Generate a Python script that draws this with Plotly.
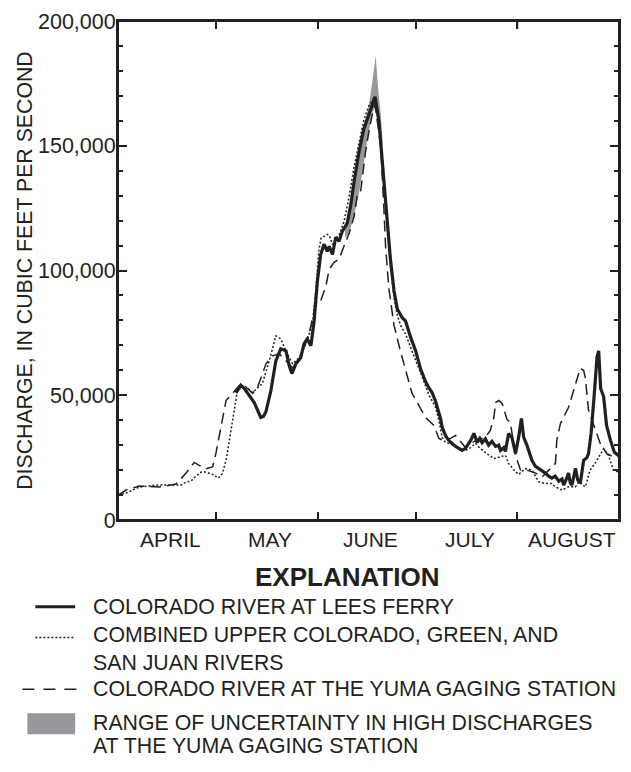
import plotly.graph_objects as go

# ---------------- data (days since April 1, discharge in ft3/s) ----------------
LEES_DAY = [36.0, 37.5, 38.6, 40.1, 41.6, 43.6, 44.4, 45.2, 46.7, 48.2, 49.7, 51.3, 52.3, 53.1, 54.3,
            55.8, 56.8, 57.8, 58.9, 59.9, 60.9, 61.9, 62.9, 63.9, 64.5, 65.5, 66.5, 67.5, 68.5, 70.0,
            71.1, 72.1, 73.6, 75.1, 76.6, 78.5, 79.7, 80.9, 82.1, 83.2, 84.3, 85.3, 86.8, 87.8, 89.4,
            90.9, 92.4, 93.9, 94.9, 95.9, 97.0, 98.5, 99.0, 100.0, 101.0, 102.0, 103.1, 104.1, 105.1,
            106.1, 107.7, 108.7, 109.7, 110.5, 111.2, 112.2, 113.2, 114.2, 115.3, 116.3, 116.8, 117.8,
            118.3, 119.3, 120.3, 121.4, 122.4, 123.2, 123.9, 124.9, 126.4, 127.5, 128.5, 129.5, 130.5,
            131.5, 132.5, 133.5, 134.6, 135.6, 136.1, 137.1, 137.6, 138.1, 138.6, 139.2, 139.7, 140.4,
            141.2, 142.2, 143.2, 143.7, 144.5, 145.3, 146.3, 146.8, 147.4, 148.3, 149.2, 150.4, 151.6,
            152.8]
LEES_CFS = [51000, 54000, 52700, 50000, 47100, 41100, 41500, 43500, 51900, 63800, 68600, 67800, 61800,
            58700, 62600, 65000, 70600, 72600, 69800, 79800, 95800, 106400, 110500, 107700, 109700,
            106400, 113300, 111700, 115700, 119000, 126500, 135700, 147600, 156800, 162800, 169600,
            159600, 139600, 119700, 104500, 91800, 84600, 81100, 79800, 73100, 67800, 60600, 55500,
            53100, 51100, 47500, 40700, 37200, 33900, 31900, 30700, 29500, 28700, 27900, 28700, 31900,
            34700, 31100, 32700, 31000, 32500, 30000, 31500, 29500, 30000, 27900, 29000, 27500, 34700,
            33100, 26700, 33500, 40700, 33100, 29900, 23900, 21500, 20700, 19600, 18800, 17600, 16800,
            17600, 15600, 16400, 14000, 17000, 18800, 15000, 14000, 17500, 20700, 16000, 14800, 23900,
            25000, 26700, 35000, 47900, 65400, 67800, 52700, 49500, 37900, 31900, 27100, 25900]

COMB_DAY = [0.0, 2.5, 6.5, 12.0, 16.6, 19.3, 20.8, 22.3, 23.8, 25.4, 26.9, 29.4, 30.6, 31.8, 33.0, 34.0,
            35.0, 35.5, 36.5, 38.6, 41.1, 44.1, 46.2, 48.2, 49.7, 51.3, 53.3, 55.3, 57.4, 59.4, 60.4,
            61.3, 62.0, 62.9, 63.9, 64.5, 65.5, 66.5, 67.5, 69.0, 70.6, 72.1, 73.6, 75.1, 76.6, 78.2,
            79.7, 80.9, 82.1, 83.2, 84.3, 85.3, 86.3, 87.8, 89.4, 91.0, 93.0, 95.0, 97.0, 98.0, 99.0,
            100.0, 101.0, 103.1, 106.1, 107.7, 109.2, 110.2, 112.2, 114.8, 116.8, 118.3, 119.3, 121.4,
            122.4, 124.4, 126.4, 127.5, 128.5, 130.5, 132.5, 133.6, 135.6, 137.6, 139.7, 140.7, 142.7,
            144.2, 146.3, 148.3, 149.8, 151.3, 152.8]
COMB_CFS = [10000, 10800, 13200, 14000, 14000, 14000, 15200, 15600, 17600, 19200, 19200, 18000, 16800,
            18400, 23900, 31900, 39900, 45100, 51900, 53900, 51100, 54700, 63800, 73800, 72600, 67800,
            62600, 65000, 70600, 78600, 91800, 107700, 112900, 113700, 114500, 114100, 110500, 112900,
            114000, 119500, 129700, 141600, 151600, 160400, 166000, 169200, 159000, 139000, 119000,
            102000, 89000, 82000, 78000, 74600, 69000, 64000, 57000, 50000, 45100, 39900, 33100, 31100,
            30700, 29500, 27900, 29000, 30700, 29200, 27000, 24600, 25300, 25900, 22600, 19300, 18300,
            20600, 20000, 17300, 15300, 14600, 14600, 13300, 12000, 13300, 13300, 15300, 13300, 20000,
            23900, 28600, 25900, 20000, 19300]

YUMA_DAY = [0.0, 2.5, 6.5, 12.6, 17.7, 20.8, 23.3, 24.8, 26.9, 28.9, 29.9, 31.5, 33.0, 35.0, 37.0, 39.6,
            41.1, 42.6, 45.2, 47.2, 49.2, 51.3, 53.3, 55.8, 58.4, 60.4, 61.9, 63.5, 64.5, 66.0, 67.5,
            69.0, 70.6, 72.1, 73.1, 74.1, 74.6, 75.6, 76.6, 77.7, 78.5, 80.2, 81.2, 81.7, 82.7, 84.3,
            86.3, 87.8, 88.8, 89.8, 91.4, 93.9, 96.5, 98.0, 100.0, 103.1, 106.1, 109.2, 112.2, 113.7,
            114.8, 115.3, 116.3, 117.3, 118.8, 119.8, 121.4, 122.9, 124.9, 127.5, 129.5, 132.5, 133.6,
            134.0, 135.1, 137.6, 140.2, 141.2, 142.2, 142.7, 143.7, 145.8, 147.3, 149.3, 151.3, 152.8]
YUMA_CFS = [10000, 12000, 13600, 13200, 14400, 18800, 23100, 21900, 20600, 21300, 26700, 37100, 47900,
            50700, 53900, 52700, 50700, 53100, 62600, 65800, 66600, 63800, 61000, 65000, 75000, 86600,
            87800, 93800, 100500, 103300, 104500, 109700, 114900, 121700, 130500, 131700, 137000,
            147600, 155600, 162800, 166400, 150000, 125000, 110000, 93000, 78000, 67400, 59900, 55900,
            50700, 47100, 41100, 37900, 32700, 31500, 33900, 29100, 31900, 33100, 35900, 41100, 47100,
            47900, 46700, 40300, 39100, 25900, 20000, 20000, 18800, 17200, 21300, 22700, 31900, 38600,
            45200, 55900, 60900, 59900, 57200, 43900, 35900, 30600, 26600, 25300, 25300]

BAND_DAY = [69.3, 70.6, 72.1, 73.6, 75.1, 76.6, 77.7, 78.7, 79.5, 80.2, 80.8]
BAND_LO = [113000, 115000, 122000, 131000, 143000, 156000, 163000, 166000, 160000, 150000, 150000]
BAND_HI = [116000, 123000, 136000, 148000, 158000, 166000, 176000, 186000, 172000, 163000, 152000]

MONTHS = ["APRIL", "MAY", "JUNE", "JULY", "AUGUST"]
MONTH_START = [0, 30, 61, 91, 122, 153]
Y_TICKS = [0, 50000, 100000, 150000, 200000]

LEGEND_TEXT = ["COLORADO RIVER AT LEES FERRY",
               "COMBINED UPPER COLORADO, GREEN, AND<br>SAN JUAN RIVERS",
               "COLORADO RIVER AT THE YUMA GAGING STATION",
               "RANGE OF UNCERTAINTY IN HIGH DISCHARGES",
               "AT THE YUMA GAGING STATION"]

# ---------------- styling ----------------
INK = "#231f20"
GRAY = "#97989b"
FONT = "Liberation Sans, Arial, Helvetica, sans-serif"
FS = 21
OFF = 8                      # default page body margin
W, H = 631 - 2 * OFF, 772 - 2 * OFF
ML, MT = 118 - OFF, 19 - OFF
PLOT_R, PLOT_B = 621 - OFF, 520 - OFF
MR, MB = W - PLOT_R, H - PLOT_B
PW, PH = W - ML - MR, H - MT - MB
XTICK_LEN = 8


def px(x):
    """page x (pixels) -> paper x"""
    return (x - OFF - ML) / PW


def py(y):
    """page y (pixels) -> paper y"""
    return (PLOT_B - (y - OFF)) / PH


fig = go.Figure()

# uncertainty band
fig.add_trace(go.Scatter(
    x=BAND_DAY + BAND_DAY[::-1], y=BAND_HI + BAND_LO[::-1],
    fill="toself", fillcolor=GRAY, line=dict(width=0), mode="lines",
    hoverinfo="skip", showlegend=False))

fig.add_trace(go.Scatter(x=COMB_DAY, y=COMB_CFS, mode="lines",
                         line=dict(color=INK, width=1.5, dash="2px,2px"),
                         showlegend=False))
fig.add_trace(go.Scatter(x=YUMA_DAY, y=YUMA_CFS, mode="lines",
                         line=dict(color=INK, width=1.5, dash="11px,6px"),
                         showlegend=False))
fig.add_trace(go.Scatter(x=LEES_DAY, y=LEES_CFS, mode="lines",
                         line=dict(color=INK, width=3.2),
                         showlegend=False))

annotations = []
for i, m in enumerate(MONTHS):
    annotations.append(dict(x=(MONTH_START[i] + MONTH_START[i + 1]) / 2 + 1, y=py(539.5),
                            xref="x", yref="paper", text=m, showarrow=False,
                            font=dict(size=FS, color=INK, family=FONT),
                            xanchor="center", yanchor="middle"))
annotations.append(dict(x=px(24), y=0.5, xref="paper", yref="paper", textangle=-90,
                        text="DISCHARGE, IN CUBIC FEET PER SECOND", showarrow=False,
                        font=dict(size=21.3, color=INK, family=FONT),
                        xanchor="center", yanchor="middle"))
annotations.append(dict(x=px(348), y=py(577), xref="paper", yref="paper",
                        text="<b>EXPLANATION</b>", showarrow=False,
                        font=dict(size=26, color=INK, family=FONT),
                        xanchor="center", yanchor="middle"))
LEG_Y = [607, 650, 690, 724, 747]
for t, yy in zip(LEGEND_TEXT, LEG_Y):
    annotations.append(dict(x=px(91), y=py(yy), xref="paper", yref="paper", text=t,
                            showarrow=False, font=dict(size=21.3, color=INK, family=FONT),
                            xanchor="left", yanchor="middle", align="left"))

shapes = [
    # frame around the plotting area (guarantees the top edge is drawn)
    dict(type="rect", xref="paper", yref="paper", x0=0, x1=1, y0=0, y1=1,
         line=dict(color=INK, width=2), layer="above"),
    dict(type="line", xref="paper", yref="paper", x0=px(35), x1=px(75), y0=py(607), y1=py(607),
         line=dict(color=INK, width=3)),
    dict(type="line", xref="paper", yref="paper", x0=px(35), x1=px(75), y0=py(638), y1=py(638),
         line=dict(color=INK, width=1.5, dash="2px,2px")),
    dict(type="line", xref="paper", yref="paper", x0=px(22), x1=px(82), y0=py(690), y1=py(690),
         line=dict(color=INK, width=1.5, dash="12px,9px")),
    dict(type="rect", xref="paper", yref="paper", x0=px(27), x1=px(75), y0=py(735), y1=py(714),
         fillcolor=GRAY, line=dict(width=0)),
]
# month-boundary ticks along the top edge
for d in MONTH_START[1:-1]:
    shapes.append(dict(type="line", xref="x", yref="paper", x0=d, x1=d,
                       y0=1, y1=1 - XTICK_LEN / PH, line=dict(color=INK, width=1.5)))

fig.update_layout(
    width=W, height=H, margin=dict(l=ML, r=MR, t=MT, b=MB, pad=0),
    paper_bgcolor="white", plot_bgcolor="white",
    font=dict(family=FONT, size=FS, color=INK),
    annotations=annotations, shapes=shapes, showlegend=False,
    xaxis=dict(range=[MONTH_START[0], MONTH_START[-1]], tickvals=MONTH_START[1:-1],
               showticklabels=False, ticks="inside", ticklen=XTICK_LEN, tickwidth=1.5,
               tickcolor=INK, showline=True, linecolor=INK, linewidth=2, mirror="ticks",
               showgrid=False, zeroline=False),
    yaxis=dict(range=[0, 200000], tickvals=Y_TICKS, tickformat=",", ticks="inside",
               ticklen=9, tickwidth=1.5, tickcolor=INK, ticklabelstandoff=-4,
               ticklabeloverflow="allow",
               minor=dict(dtick=10000, ticks="inside", ticklen=5, tickwidth=1.5, tickcolor=INK),
               showline=True, linecolor=INK, linewidth=2, mirror="ticks",
               showgrid=False, zeroline=False,
               tickfont=dict(size=21.5, color=INK, family=FONT)),
)

fig.write_html("out.html")
